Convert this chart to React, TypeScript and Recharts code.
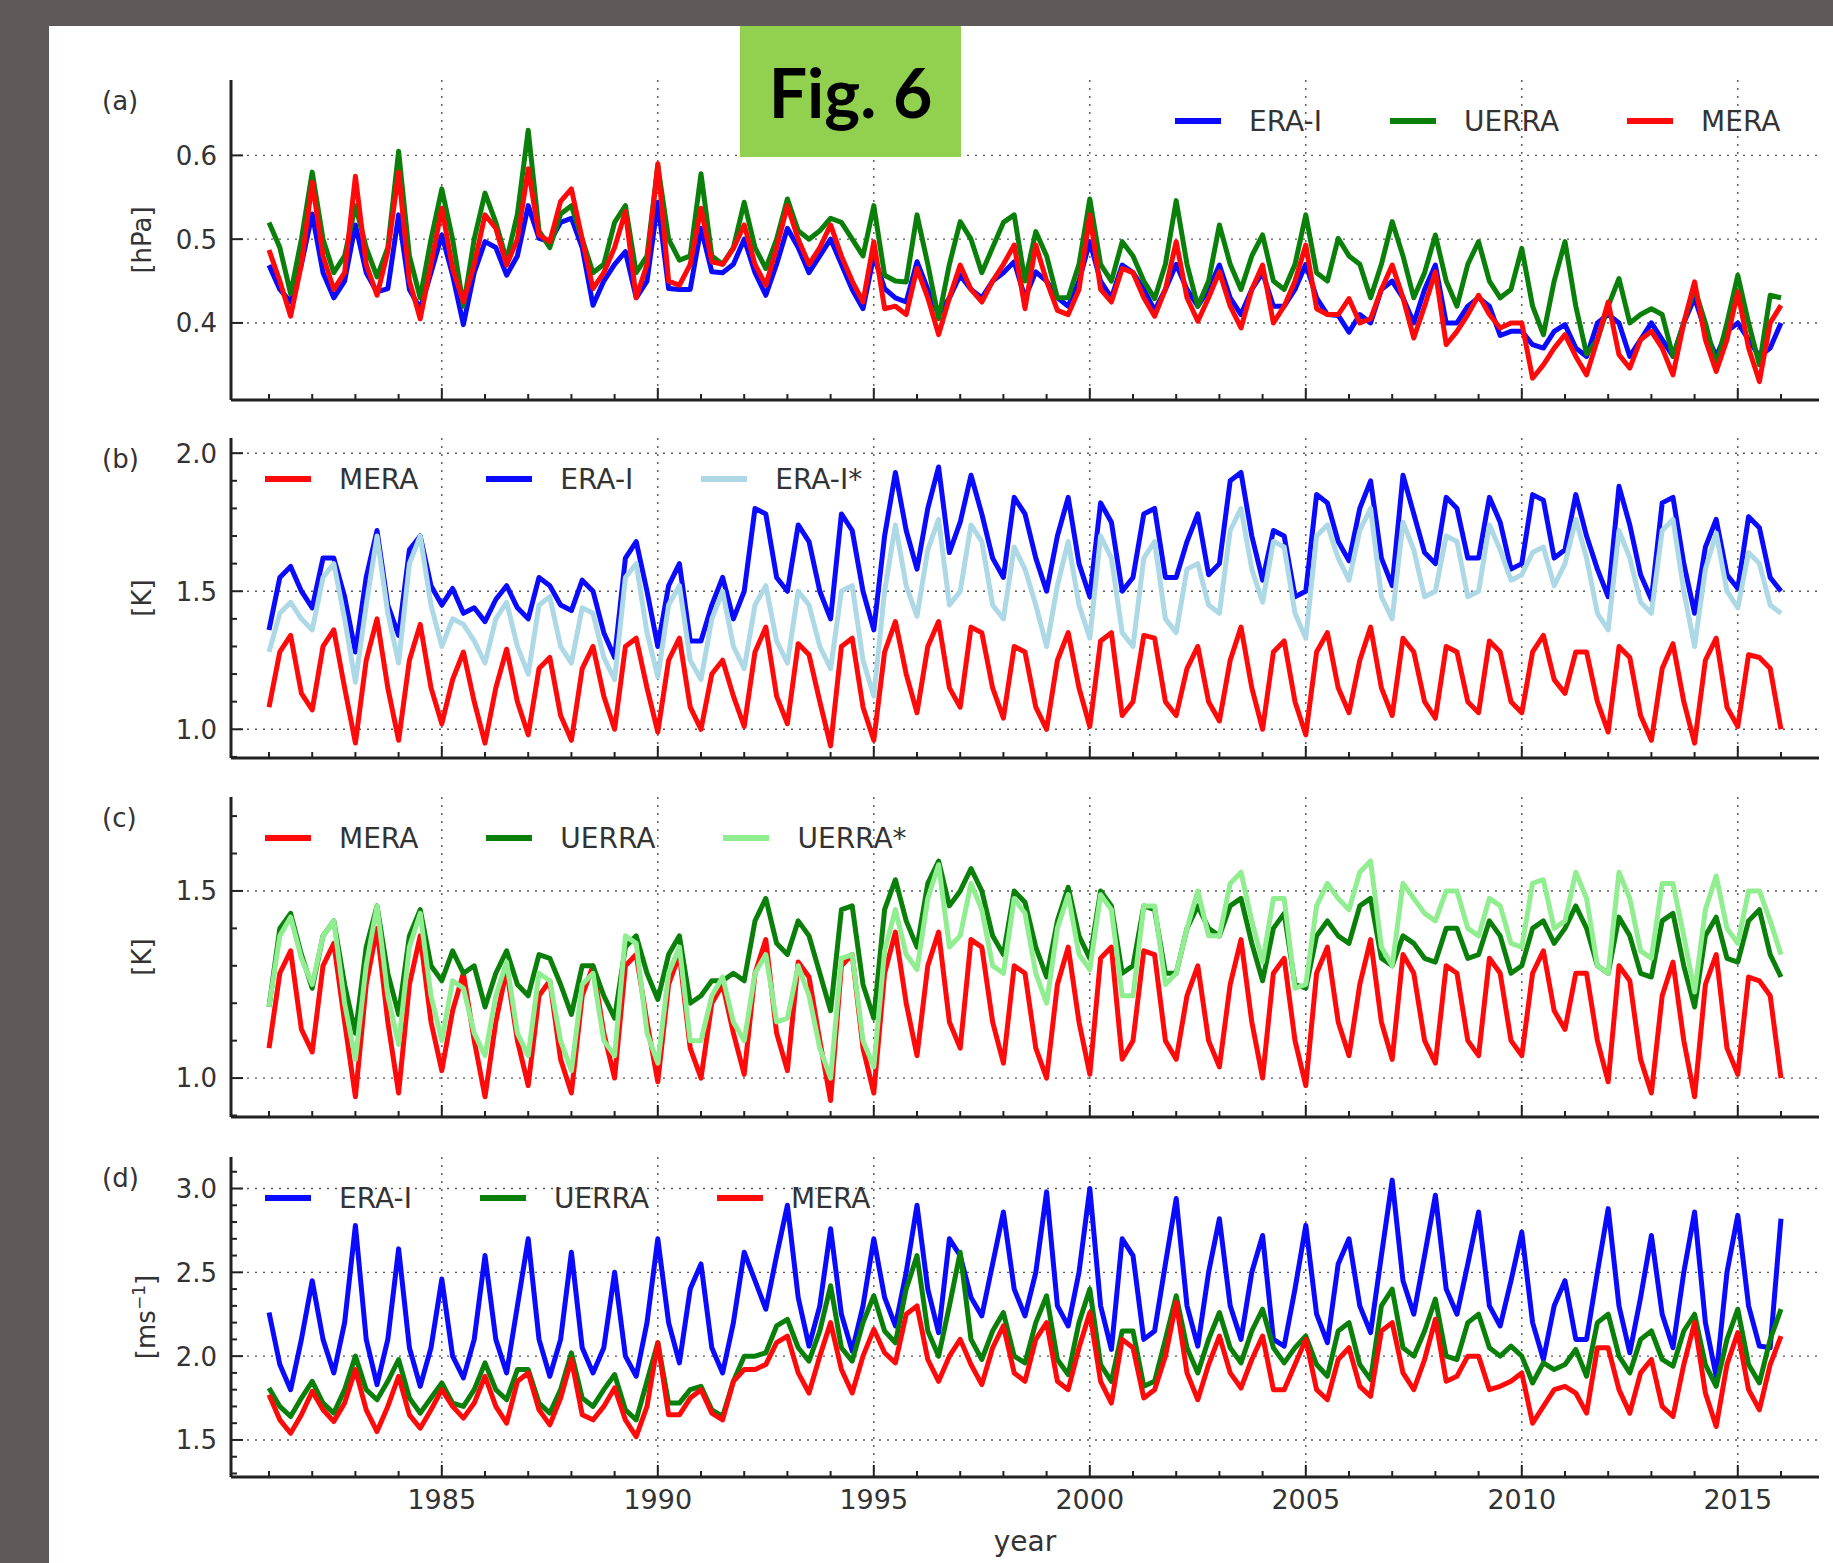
import React from 'react';
import { LineChart, Line, XAxis, YAxis, CartesianGrid } from 'recharts';

// ---------- time grid (quarterly samples) ----------
const START_YEAR = 1981;
const STEP = 0.25;

const YEAR_TICKS = [1981, 1982, 1983, 1984, 1985, 1986, 1987, 1988, 1989, 1990, 1991, 1992, 1993, 1994, 1995, 1996, 1997, 1998, 1999, 2000, 2001, 2002, 2003, 2004, 2005, 2006, 2007, 2008, 2009, 2010, 2011, 2012, 2013, 2014, 2015, 2016];
const GRID_YEARS = [1985, 1990, 1995, 2000, 2005, 2010, 2015];
const LABEL_YEARS = [1985, 1990, 1995, 2000, 2005, 2010, 2015];

// ---------- (a) surface pressure [hPa] ----------
const eraA = [
  0.469, 0.44, 0.425, 0.47, 0.53, 0.46, 0.43, 0.45, 0.517, 0.46, 0.437, 0.441, 0.529, 0.44, 0.417, 0.46,
  0.505, 0.457, 0.398, 0.46, 0.497, 0.49, 0.457, 0.48, 0.54, 0.501, 0.497, 0.52, 0.525, 0.49, 0.421, 0.45,
  0.47, 0.485, 0.43, 0.45, 0.544, 0.441, 0.44, 0.44, 0.513, 0.461, 0.46, 0.47, 0.5, 0.46, 0.433, 0.47,
  0.513, 0.49, 0.46, 0.48, 0.5, 0.47, 0.44, 0.417, 0.48, 0.441, 0.43, 0.425, 0.473, 0.44, 0.41, 0.43,
  0.457, 0.44, 0.43, 0.45, 0.46, 0.473, 0.43, 0.461, 0.45, 0.43, 0.42, 0.45, 0.497, 0.45, 0.43, 0.469,
  0.46, 0.44, 0.415, 0.44, 0.47, 0.44, 0.42, 0.44, 0.469, 0.43, 0.41, 0.44, 0.46, 0.42, 0.42, 0.44,
  0.47, 0.43, 0.41, 0.409, 0.389, 0.41, 0.4, 0.44, 0.45, 0.43, 0.4, 0.44, 0.469, 0.4, 0.4, 0.42,
  0.43, 0.42, 0.385, 0.39, 0.39, 0.374, 0.37, 0.39, 0.398, 0.37, 0.36, 0.4, 0.41, 0.4, 0.36, 0.38,
  0.4, 0.38, 0.36, 0.4, 0.43, 0.39, 0.36, 0.39, 0.4, 0.38, 0.36, 0.37, 0.4,
];
const uerraA = [
  0.52, 0.49, 0.435, 0.5, 0.58, 0.5, 0.46, 0.48, 0.54, 0.49, 0.455, 0.49, 0.605, 0.48, 0.43, 0.5,
  0.56, 0.5, 0.42, 0.5, 0.555, 0.52, 0.475, 0.53, 0.63, 0.51, 0.49, 0.53, 0.54, 0.5, 0.46, 0.47,
  0.52, 0.54, 0.46, 0.48, 0.588, 0.5, 0.475, 0.48, 0.578, 0.48, 0.47, 0.49, 0.544, 0.49, 0.465, 0.5,
  0.548, 0.51, 0.5, 0.51, 0.525, 0.52, 0.5, 0.48, 0.54, 0.457, 0.45, 0.449, 0.529, 0.47, 0.405, 0.47,
  0.521, 0.5, 0.46, 0.49, 0.52, 0.529, 0.45, 0.509, 0.48, 0.43, 0.43, 0.47, 0.548, 0.47, 0.45, 0.497,
  0.48, 0.45, 0.429, 0.47, 0.546, 0.47, 0.42, 0.45, 0.517, 0.47, 0.44, 0.48, 0.505, 0.45, 0.44, 0.47,
  0.529, 0.46, 0.45, 0.501, 0.48, 0.47, 0.43, 0.47, 0.521, 0.48, 0.43, 0.46, 0.505, 0.45, 0.42, 0.47,
  0.497, 0.45, 0.43, 0.44, 0.489, 0.42, 0.386, 0.45, 0.497, 0.42, 0.363, 0.38, 0.42, 0.453, 0.4, 0.41,
  0.417, 0.41, 0.36, 0.4, 0.441, 0.4, 0.35, 0.4, 0.457, 0.4, 0.35, 0.433, 0.43,
];
const meraA = [
  0.487, 0.45, 0.408, 0.47, 0.568, 0.48, 0.44, 0.46, 0.575, 0.47, 0.433, 0.485, 0.58, 0.45, 0.405, 0.47,
  0.537, 0.465, 0.425, 0.47, 0.529, 0.513, 0.469, 0.5, 0.584, 0.505, 0.497, 0.545, 0.56, 0.5, 0.441, 0.46,
  0.49, 0.533, 0.43, 0.47, 0.59, 0.45, 0.445, 0.47, 0.537, 0.473, 0.47, 0.489, 0.517, 0.47, 0.445, 0.49,
  0.54, 0.5, 0.47, 0.49, 0.517, 0.48, 0.45, 0.425, 0.497, 0.417, 0.42, 0.41, 0.465, 0.43, 0.386, 0.43,
  0.469, 0.44, 0.425, 0.45, 0.47, 0.493, 0.417, 0.493, 0.45, 0.415, 0.41, 0.44, 0.529, 0.44, 0.425, 0.465,
  0.46, 0.43, 0.408, 0.44, 0.497, 0.43, 0.402, 0.43, 0.461, 0.42, 0.394, 0.44, 0.469, 0.4, 0.42, 0.45,
  0.493, 0.417, 0.41, 0.41, 0.429, 0.4, 0.405, 0.44, 0.469, 0.43, 0.382, 0.42, 0.461, 0.374, 0.39, 0.41,
  0.433, 0.41, 0.394, 0.4, 0.4, 0.334, 0.35, 0.37, 0.386, 0.36, 0.338, 0.38, 0.425, 0.362, 0.346, 0.38,
  0.39, 0.37, 0.338, 0.4, 0.449, 0.38, 0.342, 0.38, 0.437, 0.37, 0.33, 0.4, 0.421,
];

// ---------- (b) temperature [K] ----------
const meraBC = [
  1.08, 1.28, 1.34, 1.13, 1.07, 1.3, 1.36, 1.15, 0.95, 1.25, 1.4, 1.15, 0.96, 1.25, 1.38, 1.15,
  1.02, 1.18, 1.28, 1.1, 0.95, 1.15, 1.29, 1.1, 0.98, 1.22, 1.26, 1.05, 0.96, 1.22, 1.3, 1.12,
  1.0, 1.3, 1.33, 1.15, 0.99, 1.25, 1.33, 1.08, 1.0, 1.2, 1.25, 1.12, 1.01, 1.28, 1.37, 1.12,
  1.02, 1.31, 1.27, 1.1, 0.94, 1.3, 1.33, 1.08, 0.96, 1.28, 1.39, 1.2, 1.06, 1.3, 1.39, 1.15,
  1.08, 1.37, 1.35, 1.15, 1.04, 1.3, 1.28, 1.08, 1.0, 1.25, 1.35, 1.15, 1.01, 1.32, 1.35, 1.05,
  1.1, 1.34, 1.33, 1.1, 1.05, 1.22, 1.3, 1.1, 1.03, 1.25, 1.37, 1.15, 1.0, 1.28, 1.32, 1.1,
  0.98, 1.28, 1.35, 1.15, 1.06, 1.25, 1.37, 1.15, 1.05, 1.33, 1.28, 1.1, 1.04, 1.3, 1.28, 1.1,
  1.06, 1.32, 1.28, 1.1, 1.06, 1.28, 1.34, 1.18, 1.13, 1.28, 1.28, 1.1, 0.99, 1.3, 1.26, 1.05,
  0.96, 1.22, 1.31, 1.1, 0.95, 1.25, 1.33, 1.08, 1.01, 1.27, 1.26, 1.22, 1.0,
];
const eraB = [
  1.36, 1.55, 1.59, 1.5, 1.44, 1.62, 1.62, 1.48, 1.28, 1.55, 1.72, 1.45, 1.34, 1.65, 1.7, 1.52,
  1.45, 1.51, 1.42, 1.44, 1.39, 1.47, 1.52, 1.44, 1.4, 1.55, 1.52, 1.45, 1.43, 1.54, 1.5, 1.35,
  1.26, 1.62, 1.68, 1.5, 1.3, 1.52, 1.6, 1.32, 1.32, 1.45, 1.55, 1.4, 1.5, 1.8, 1.78, 1.55,
  1.5, 1.74, 1.68, 1.5, 1.4, 1.78, 1.72, 1.5, 1.36, 1.7, 1.93, 1.72, 1.58, 1.8, 1.95, 1.64,
  1.75, 1.92, 1.78, 1.62, 1.55, 1.84, 1.78, 1.62, 1.5, 1.7, 1.84, 1.6, 1.48, 1.82, 1.75, 1.5,
  1.55, 1.78, 1.8, 1.55, 1.55, 1.68, 1.78, 1.56, 1.6, 1.9, 1.93, 1.7, 1.54, 1.72, 1.7, 1.48,
  1.5, 1.85, 1.82, 1.68, 1.61, 1.8, 1.9, 1.62, 1.52, 1.92, 1.78, 1.64, 1.6, 1.84, 1.8, 1.62,
  1.62, 1.84, 1.75, 1.58, 1.6, 1.85, 1.83, 1.62, 1.65, 1.85, 1.7, 1.58, 1.48, 1.88, 1.74, 1.56,
  1.47, 1.82, 1.84, 1.6, 1.42, 1.66, 1.76, 1.56, 1.51, 1.77, 1.73, 1.55, 1.5,
];
const eraStarB = [
  1.28, 1.42, 1.46, 1.4, 1.36, 1.55, 1.6, 1.4, 1.17, 1.45, 1.7, 1.42, 1.24, 1.6, 1.7, 1.45,
  1.3, 1.4, 1.38, 1.32, 1.24, 1.4, 1.46, 1.3, 1.2, 1.45, 1.48, 1.3, 1.24, 1.44, 1.42, 1.26,
  1.18, 1.55, 1.6, 1.35, 1.19, 1.45, 1.52, 1.25, 1.18, 1.4, 1.5, 1.3, 1.22, 1.45, 1.52, 1.32,
  1.24, 1.5, 1.45, 1.3, 1.22, 1.5, 1.52, 1.25, 1.12, 1.5, 1.74, 1.52, 1.41, 1.65, 1.76, 1.45,
  1.5, 1.74, 1.68, 1.45, 1.4, 1.66, 1.58, 1.45, 1.3, 1.52, 1.68, 1.45, 1.33, 1.7, 1.62, 1.35,
  1.3, 1.62, 1.68, 1.4, 1.35, 1.58, 1.6, 1.45, 1.42, 1.72, 1.8, 1.58, 1.46, 1.68, 1.66, 1.42,
  1.33, 1.7, 1.74, 1.62, 1.54, 1.72, 1.8, 1.48, 1.4, 1.75, 1.65, 1.48, 1.5, 1.7, 1.68, 1.48,
  1.5, 1.74, 1.65, 1.54, 1.56, 1.64, 1.66, 1.52, 1.6, 1.76, 1.62, 1.42, 1.36, 1.72, 1.62, 1.46,
  1.42, 1.72, 1.76, 1.5, 1.3, 1.58, 1.71, 1.5, 1.44, 1.64, 1.6, 1.45, 1.42,
];

// ---------- (c) temperature [K] ----------
const uerraC = [
  1.19, 1.4, 1.44, 1.33, 1.24, 1.38, 1.42, 1.25, 1.12, 1.35, 1.46, 1.28, 1.17, 1.38, 1.45, 1.3,
  1.26, 1.34, 1.28, 1.3, 1.19, 1.28, 1.34, 1.25, 1.22, 1.33, 1.32, 1.25, 1.17, 1.3, 1.3, 1.22,
  1.16, 1.35, 1.38, 1.28, 1.21, 1.33, 1.38, 1.2, 1.22, 1.26, 1.26, 1.28, 1.26, 1.42, 1.48, 1.36,
  1.33, 1.42, 1.38, 1.28, 1.18, 1.45, 1.46, 1.25, 1.16, 1.45, 1.53, 1.42, 1.35, 1.52, 1.58, 1.46,
  1.5, 1.56, 1.5, 1.38, 1.33, 1.5, 1.47, 1.35, 1.27, 1.42, 1.51, 1.38, 1.32, 1.5, 1.46, 1.28,
  1.3, 1.46, 1.45, 1.28, 1.28, 1.4, 1.46, 1.4, 1.38, 1.46, 1.48, 1.36, 1.26, 1.4, 1.44, 1.25,
  1.24, 1.38, 1.42, 1.38, 1.36, 1.46, 1.48, 1.32, 1.3, 1.38, 1.36, 1.32, 1.31, 1.4, 1.4, 1.32,
  1.33, 1.42, 1.38, 1.28, 1.3, 1.4, 1.42, 1.36, 1.4, 1.46, 1.4, 1.3, 1.28, 1.43, 1.38, 1.28,
  1.27, 1.42, 1.44, 1.3, 1.19, 1.38, 1.43, 1.32, 1.31, 1.42, 1.45, 1.33, 1.27,
];
const uerraStarC = [
  1.19, 1.38, 1.43, 1.32, 1.25, 1.38, 1.42, 1.2, 1.05, 1.3, 1.46, 1.22, 1.09, 1.35, 1.44, 1.22,
  1.1, 1.26, 1.24, 1.12, 1.06, 1.22, 1.31, 1.12, 1.06, 1.28, 1.26, 1.1, 1.02, 1.25, 1.28, 1.1,
  1.06, 1.38, 1.36, 1.12, 1.04, 1.28, 1.35, 1.1, 1.1, 1.22, 1.27, 1.15, 1.1, 1.28, 1.33, 1.15,
  1.16, 1.3, 1.22, 1.08, 1.0, 1.32, 1.33, 1.1, 1.03, 1.34, 1.45, 1.33, 1.29, 1.48, 1.57, 1.35,
  1.38, 1.52, 1.45, 1.3, 1.28, 1.48, 1.44, 1.28, 1.2, 1.4, 1.49, 1.33, 1.29, 1.49, 1.45, 1.22,
  1.22, 1.46, 1.46, 1.25, 1.28, 1.4, 1.5, 1.38, 1.38, 1.52, 1.55, 1.42, 1.31, 1.48, 1.48, 1.24,
  1.25, 1.46, 1.52, 1.48, 1.45, 1.55, 1.58, 1.35, 1.3, 1.52, 1.48, 1.44, 1.42, 1.5, 1.5, 1.4,
  1.38, 1.48, 1.46, 1.36, 1.35, 1.52, 1.53, 1.4, 1.42, 1.55, 1.48, 1.3, 1.28, 1.55, 1.48, 1.34,
  1.32, 1.52, 1.52, 1.38, 1.23, 1.45, 1.54, 1.4, 1.36, 1.5, 1.5, 1.42, 1.33,
];

// ---------- (d) wind speed [m/s] ----------
const eraD = [
  2.26, 1.95, 1.8, 2.1, 2.45, 2.1, 1.9, 2.2, 2.78, 2.1, 1.83, 2.1, 2.64, 2.05, 1.82, 2.05,
  2.46, 2.0, 1.87, 2.1, 2.6, 2.1, 1.9, 2.3, 2.7, 2.1, 1.88, 2.1, 2.62, 2.05, 1.9, 2.05,
  2.5, 2.0, 1.88, 2.2, 2.7, 2.2, 1.96, 2.4, 2.55, 2.05, 1.9, 2.2, 2.62, 2.45, 2.28, 2.6,
  2.9, 2.35, 2.06, 2.3, 2.76, 2.25, 2.03, 2.3, 2.7, 2.35, 2.18, 2.5, 2.9, 2.4, 2.14, 2.7,
  2.6, 2.35, 2.24, 2.55, 2.86, 2.4, 2.24, 2.5, 2.98, 2.3, 2.18, 2.5, 3.0, 2.3, 2.04, 2.7,
  2.6, 2.1, 2.15, 2.55, 2.94, 2.3, 2.06, 2.5, 2.82, 2.3, 2.1, 2.5, 2.72, 2.1, 2.06, 2.4,
  2.78, 2.25, 2.08, 2.55, 2.7, 2.3, 2.14, 2.6, 3.05, 2.45, 2.25, 2.6, 2.96, 2.4, 2.25, 2.55,
  2.86, 2.3, 2.18, 2.45, 2.74, 2.2, 1.98, 2.3, 2.45, 2.1, 2.1, 2.5, 2.88, 2.3, 2.02, 2.35,
  2.72, 2.25, 2.05, 2.5, 2.86, 2.2, 1.88, 2.5, 2.84, 2.3, 2.06, 2.05, 2.82,
];
const uerraD = [
  1.81, 1.7, 1.64, 1.75, 1.85, 1.72, 1.66, 1.8, 2.0, 1.8, 1.74, 1.85, 1.98, 1.75, 1.66, 1.75,
  1.84, 1.72, 1.7, 1.8, 1.96, 1.8, 1.74, 1.92, 1.92, 1.72, 1.66, 1.8, 2.02, 1.75, 1.7, 1.8,
  1.89, 1.68, 1.62, 1.85, 2.08, 1.72, 1.72, 1.8, 1.82, 1.68, 1.64, 1.85, 2.0, 2.0, 2.02, 2.18,
  2.22, 2.05, 1.97, 2.15, 2.42, 2.05, 1.97, 2.2, 2.36, 2.15, 2.08, 2.4, 2.6, 2.15, 2.0, 2.3,
  2.62, 2.1, 1.98, 2.15, 2.26, 2.0, 1.96, 2.2, 2.36, 1.98, 1.89, 2.2, 2.4, 1.95, 1.85, 2.15,
  2.15, 1.82, 1.85, 2.1, 2.36, 2.05, 1.9, 2.1, 2.26, 2.05, 1.96, 2.15, 2.28, 2.05, 1.96, 2.05,
  2.12, 1.95, 1.88, 2.15, 2.2, 1.95, 1.86, 2.3, 2.4, 2.05, 2.0, 2.15, 2.34, 2.0, 1.98, 2.2,
  2.25, 2.05, 2.0, 2.06, 2.0, 1.84, 1.96, 1.92, 1.95, 2.04, 1.88, 2.2, 2.25, 2.0, 1.9, 2.1,
  2.15, 1.98, 1.94, 2.15, 2.25, 1.95, 1.82, 2.1, 2.28, 1.95, 1.84, 2.1, 2.28,
];
const meraD = [
  1.77, 1.62, 1.54, 1.65, 1.79, 1.68, 1.61, 1.72, 1.92, 1.68, 1.55, 1.7, 1.88, 1.65, 1.57, 1.68,
  1.8, 1.7, 1.63, 1.72, 1.88, 1.7, 1.6, 1.85, 1.9, 1.68, 1.59, 1.75, 1.98, 1.65, 1.62, 1.7,
  1.81, 1.62, 1.52, 1.7, 2.08, 1.65, 1.65, 1.75, 1.8, 1.66, 1.62, 1.85, 1.92, 1.92, 1.95, 2.08,
  2.12, 1.9, 1.78, 2.0, 2.2, 1.92, 1.78, 2.0, 2.16, 2.02, 1.96, 2.25, 2.3, 1.98, 1.85, 2.0,
  2.1, 1.95, 1.83, 2.05, 2.18, 1.9, 1.85, 2.1, 2.2, 1.85, 1.8, 2.05, 2.26, 1.85, 1.72, 2.1,
  2.05, 1.75, 1.8, 2.0, 2.32, 1.9, 1.74, 1.95, 2.12, 1.9, 1.81, 1.98, 2.12, 1.8, 1.8, 1.95,
  2.1, 1.8, 1.74, 1.98, 2.05, 1.82, 1.76, 2.15, 2.2, 1.9, 1.8, 1.98, 2.22, 1.85, 1.88, 2.0,
  2.0, 1.8, 1.82, 1.85, 1.9, 1.6, 1.7, 1.8, 1.82, 1.78, 1.66, 2.05, 2.05, 1.8, 1.66, 1.9,
  1.98, 1.7, 1.64, 1.95, 2.2, 1.78, 1.58, 1.95, 2.14, 1.8, 1.68, 1.95, 2.12,
];

// ---------- styling ----------
const BLUE = '#0a0aff';
const GREEN = '#0a800a';
const RED = '#ff0a0a';
const LIGHTBLUE = '#add8e6';
const LIGHTGREEN = '#90ee90';
const FONT = "'DejaVu Sans', 'Liberation Sans', sans-serif";
const TEXT = '#333';

const PLOT_LEFT = 231;
const PLOT_RIGHT = 1819;
const PLOT_H = 320;
const CHART_W = 1833;
const TOP_PAD = 60;
const X_DOMAIN: [number, number] = [1980.12, 2016.88];

type Series = { key: string; name: string; color: string; values: number[] };
type Panel = {
  letter: string;
  unit: React.ReactNode;
  top: number;
  domain: [number, number];
  yTicks: number[];
  yLabels: number[];
  series: Series[];
  legendLeft: number;
  xLabels: boolean;
};

const panels: Panel[] = [
  {
    letter: '(a)', unit: '[hPa]', top: 80, domain: [0.308, 0.69],
    yTicks: [0.4, 0.5, 0.6], yLabels: [0.4, 0.5, 0.6],
    series: [
      { key: 'era', name: 'ERA-I', color: BLUE, values: eraA },
      { key: 'uerra', name: 'UERRA', color: GREEN, values: uerraA },
      { key: 'mera', name: 'MERA', color: RED, values: meraA },
    ],
    legendLeft: 1175, xLabels: false,
  },
  {
    letter: '(b)', unit: '[K]', top: 438, domain: [0.896, 2.055],
    yTicks: [0.9, 1.0, 1.1, 1.2, 1.3, 1.4, 1.5, 1.6, 1.7, 1.8, 1.9, 2.0], yLabels: [1.0, 1.5, 2.0],
    series: [
      { key: 'mera', name: 'MERA', color: RED, values: meraBC },
      { key: 'era', name: 'ERA-I', color: BLUE, values: eraB },
      { key: 'eraStar', name: 'ERA-I*', color: LIGHTBLUE, values: eraStarB },
    ],
    legendLeft: 265, xLabels: false,
  },
  {
    letter: '(c)', unit: '[K]', top: 797, domain: [0.896, 1.751],
    yTicks: [0.9, 1.0, 1.1, 1.2, 1.3, 1.4, 1.5, 1.6, 1.7], yLabels: [1.0, 1.5],
    series: [
      { key: 'mera', name: 'MERA', color: RED, values: meraBC },
      { key: 'uerra', name: 'UERRA', color: GREEN, values: uerraC },
      { key: 'uerraStar', name: 'UERRA*', color: LIGHTGREEN, values: uerraStarC },
    ],
    legendLeft: 265, xLabels: false,
  },
  {
    letter: '(d)',
    unit: (<span>[ms<sup style={{ fontSize: 17 }}>−1</sup>]</span>),
    top: 1157, domain: [1.279, 3.188],
    yTicks: [1.3, 1.4, 1.5, 1.6, 1.7, 1.8, 1.9, 2.0, 2.1, 2.2, 2.3, 2.4, 2.5, 2.6, 2.7, 2.8, 2.9, 3.0, 3.1],
    yLabels: [1.5, 2.0, 2.5, 3.0],
    series: [
      { key: 'era', name: 'ERA-I', color: BLUE, values: eraD },
      { key: 'uerra', name: 'UERRA', color: GREEN, values: uerraD },
      { key: 'mera', name: 'MERA', color: RED, values: meraD },
    ],
    legendLeft: 265, xLabels: true,
  },
];

function buildRows(series: Series[]) {
  const n = series[0].values.length;
  return Array.from({ length: n }, (_, i) => {
    const row: Record<string, number> = { t: START_YEAR + i * STEP };
    series.forEach((s) => { row[s.key] = s.values[i]; });
    return row;
  });
}

function XTick(props: any) {
  const { x, y, payload, showLabels } = props;
  const v = payload.value as number;
  const major = LABEL_YEARS.includes(v);
  return (
    <g>
      <line x1={x} x2={x} y1={y} y2={y - (major ? 12 : 6)} stroke="#222" strokeWidth={2} />
      {major && showLabels && (
        <text x={x} y={y + 32} textAnchor="middle" fontSize={27} fill={TEXT} fontFamily={FONT}>{v}</text>
      )}
    </g>
  );
}

function YTick(props: any) {
  const { x, y, payload, labels } = props;
  const v = payload.value as number;
  const major = (labels as number[]).some((l) => Math.abs(l - v) < 1e-6);
  return (
    <g>
      <line x1={x} x2={x + (major ? 12 : 6)} y1={y} y2={y} stroke="#222" strokeWidth={2} />
      {major && (
        <text x={x - 14} y={y} dy="0.36em" textAnchor="end" fontSize={26} fill={TEXT} fontFamily={FONT}>{v.toFixed(1)}</text>
      )}
    </g>
  );
}

function PanelChart({ p }: { p: Panel }) {
  const rows = buildRows(p.series);
  const xAxisH = p.xLabels ? 100 : 30;
  const height = TOP_PAD + PLOT_H + xAxisH;
  const gridY = p.yLabels;
  return (
    <div style={{ position: 'absolute', left: 0, top: p.top - TOP_PAD, width: CHART_W, height }}>
      <LineChart
        width={CHART_W}
        height={height}
        data={rows}
        margin={{ top: TOP_PAD, right: CHART_W - PLOT_RIGHT, bottom: 0, left: PLOT_LEFT - 60 }}
      >
        <CartesianGrid
          horizontalValues={gridY}
          verticalValues={GRID_YEARS}
          stroke="#555"
          strokeWidth={1.4}
          strokeDasharray="2 6"
        />
        <XAxis
          dataKey="t"
          type="number"
          domain={X_DOMAIN}
          allowDataOverflow
          ticks={YEAR_TICKS}
          interval={0}
          height={xAxisH}
          tickSize={0}
          tickMargin={0}
          tickLine={false}
          axisLine={{ stroke: '#222', strokeWidth: 3 }}
          tick={(tp: any) => <XTick {...tp} showLabels={p.xLabels} />}
        />
        <YAxis
          type="number"
          domain={p.domain}
          allowDataOverflow
          ticks={p.yTicks}
          interval={0}
          width={60}
          tickSize={0}
          tickMargin={0}
          tickLine={false}
          axisLine={{ stroke: '#222', strokeWidth: 3 }}
          tick={(tp: any) => <YTick {...tp} labels={p.yLabels} />}
        />
        {p.series.map((s) => (
          <Line
            key={s.key}
            type="linear"
            dataKey={s.key}
            name={s.name}
            stroke={s.color}
            strokeWidth={5}
            strokeLinejoin="round"
            dot={false}
            activeDot={false}
            isAnimationActive={false}
          />
        ))}
      </LineChart>
      {/* legend */}
      <div
        style={{
          position: 'absolute', left: p.legendLeft, top: TOP_PAD + 41 - 18, height: 36,
          display: 'flex', alignItems: 'center', fontFamily: FONT, fontSize: 28, color: TEXT, whiteSpace: 'nowrap',
        }}
      >
        {p.series.map((s, i) => (
          <div key={s.key} style={{ display: 'flex', alignItems: 'center', marginRight: i < p.series.length - 1 ? 68 : 0 }}>
            <div style={{ width: 46, height: 6, background: s.color, marginRight: 28 }} />
            <span>{s.name}</span>
          </div>
        ))}
      </div>
      {/* panel letter */}
      <div style={{ position: 'absolute', left: 102, top: TOP_PAD + 21 - 16, height: 32, lineHeight: '32px', fontFamily: FONT, fontSize: 26, color: TEXT }}>
        {p.letter}
      </div>
      {/* unit label */}
      <div
        style={{
          position: 'absolute', left: 142, top: TOP_PAD + PLOT_H / 2, transform: 'translate(-50%, -50%) rotate(-90deg)',
          fontFamily: FONT, fontSize: 26, color: TEXT, whiteSpace: 'nowrap', lineHeight: '32px',
        }}
      >
        {p.unit}
      </div>
      {p.xLabels && (
        <div
          style={{
            position: 'absolute', left: (PLOT_LEFT + PLOT_RIGHT) / 2, top: TOP_PAD + PLOT_H + 65 - 15,
            transform: 'translateX(-50%)', fontFamily: FONT, fontSize: 28, color: TEXT, lineHeight: '30px',
          }}
        >
          year
        </div>
      )}
    </div>
  );
}

export default function App() {
  return (
    <div style={{ position: 'absolute', left: 0, top: 0, width: 1833, height: 1563, background: '#5f5a59', overflow: 'hidden' }}>
      <div style={{ position: 'absolute', left: 49, top: 26, right: 0, bottom: 0, background: '#ffffff' }} />
      {panels.map((p) => (
        <PanelChart key={p.letter} p={p} />
      ))}
      <div
        style={{
          position: 'absolute', left: 740, top: 26, width: 221, height: 131, background: '#92d050',
          display: 'flex', alignItems: 'center', justifyContent: 'center', zIndex: 10,
          fontFamily: "Lato, 'Open Sans', sans-serif", fontWeight: 700, fontSize: 68, color: '#000',
        }}
      >
        Fig. 6
      </div>
    </div>
  );
}
